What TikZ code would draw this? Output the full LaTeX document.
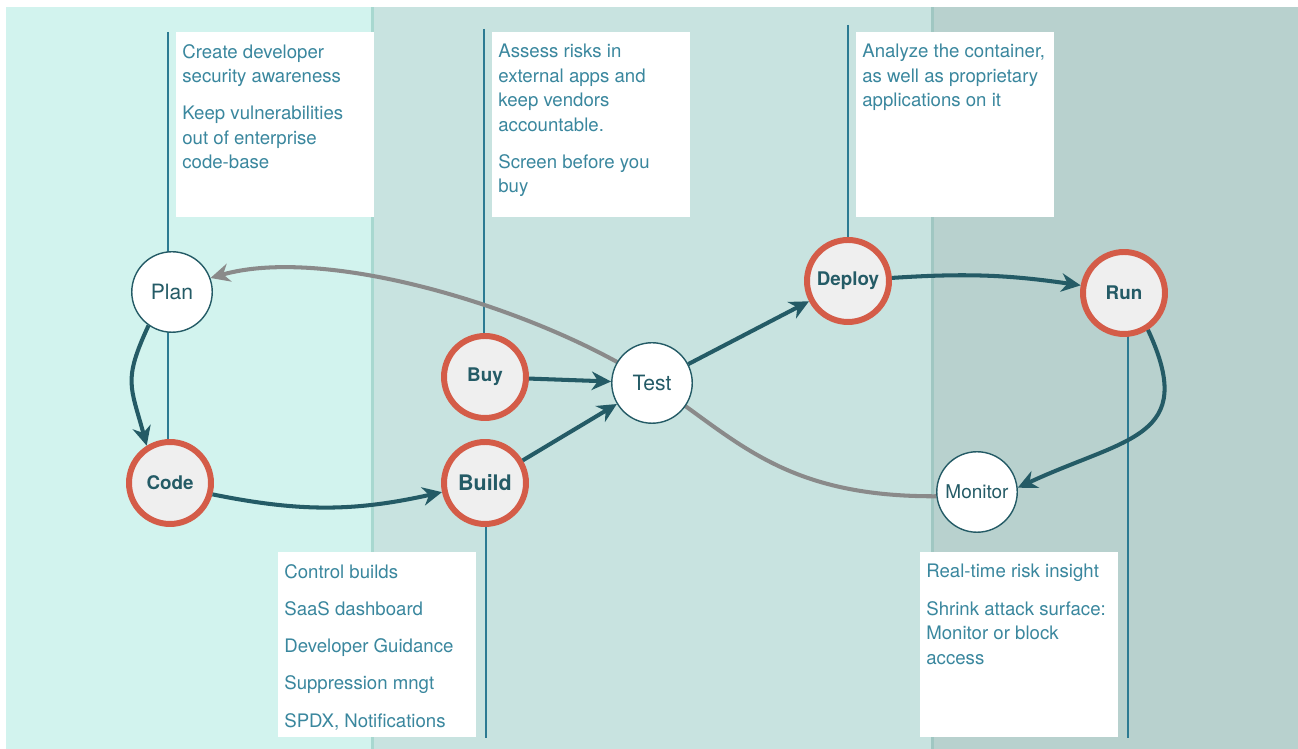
\documentclass[tikz,border=0pt]{standalone}
\usepackage{fontspec}
\setmainfont{TeX Gyre Heros}
\usepackage{xcolor}
\usepackage{tikz}
\usetikzlibrary{positioning,arrows.meta,backgrounds}

\definecolor{bandA}{RGB}{210,243,238}
\definecolor{bandB}{RGB}{200,227,224}
\definecolor{bandC}{RGB}{184,209,206}
\definecolor{edgeA}{RGB}{168,216,208}
\definecolor{edgeB}{RGB}{160,199,194}
\definecolor{loopdark}{RGB}{36,91,102}
\definecolor{loopgray}{RGB}{138,138,138}
\definecolor{scanred}{RGB}{212,92,72}
\definecolor{scanfill}{RGB}{239,239,239}
\definecolor{notecolor}{RGB}{58,135,158}
\definecolor{tetherblue}{RGB}{44,122,146}

% fixed-size text block of a note card
\newcommand{\infotext}[1]{\parbox[t][3.22cm][t]{3.72cm}{\raggedright\setlength{\parskip}{7.3pt}#1}}

\begin{document}
\begin{tikzpicture}[x=0.02cm,y=0.02cm,
    plainstage/.style={circle,minimum size=1.61cm,inner sep=0pt,draw=loopdark,line width=0.8pt,
      fill=white,text=loopdark,font=\fontsize{12}{14}\selectfont},
    scanstage/.style={circle,minimum size=1.64cm,inner sep=0pt,draw=scanred,line width=3.4pt,
      fill=scanfill,text=loopdark,font=\bfseries\fontsize{10.7}{13}\selectfont},
    note/.style={rectangle,fill=white,anchor=north west,inner xsep=0.12cm,inner ysep=0.24cm,
      text=notecolor,font=\fontsize{10.6}{13.9}\selectfont},
    flow/.style={draw=loopdark,line width=2.3pt,-{Stealth[length=11pt,width=10.5pt,inset=3.5pt]}},
    back/.style={draw=loopgray,line width=2.3pt,-{Stealth[length=11pt,width=10.5pt,inset=3.5pt]}},
    tether/.style={draw=tetherblue,line width=1pt}]
    \useasboundingbox (0,0) rectangle (1298,749);

    % stages
    \node[plainstage] (plan) at (172,457) {Plan};
    \node[scanstage] (code) at (170,266) {Code};
    \node[scanstage] (buy) at (485,372) {Buy};
    \node[scanstage,font=\bfseries\fontsize{12.2}{14}\selectfont] (build) at (485,266) {Build};
    \node[plainstage] (test) at (652,366) {Test};
    \node[scanstage] (deploy) at (848,468) {Deploy};
    \node[scanstage] (run) at (1124,456) {Run};
    \node[plainstage,font=\fontsize{10.8}{13}\selectfont] (monitor) at (977,257) {Monitor};

    % note cards
    \node[note] (planinfo) at (176,717) {\infotext{Create developer\\security awareness\par
      Keep vulnerabilities\\out of enterprise\\code-base}};
    \node[note] (buyinfo) at (492,717) {\infotext{Assess risks in\\external apps and\\keep vendors\\accountable.\par
      Screen before you\\buy}};
    \node[note] (deployinfo) at (856,717) {\infotext{Analyze the container,\\as well as proprietary\\applications on it}};
    \node[note] (buildinfo) at (278,197) {\infotext{Control builds\par SaaS dashboard\par
      Developer Guidance\par Suppression mngt\par SPDX, Notifications}};
    \node[note] (monitorinfo) at (920,197) {\infotext{Real-time risk insight\par
      Shrink attack surface:\\Monitor or block\\access}};

    % main loop
    \draw[flow] (plan.235) to[out=245,in=105,looseness=1.3] (code.122);
    \draw[flow] (code.-15) to[bend right=12] (build.192);
    \draw[flow] (buy) -- (test);
    \draw[flow] (build) -- (test);
    \draw[flow] (test) -- (deploy);
    \draw[flow] (deploy.4) to[bend left=6] (run.170);
    \draw[flow] (run.-57) to[out=-65,in=25,looseness=1.5] (monitor.6);

    \begin{scope}[on background layer]
      \fill[white] (0,0) rectangle (1298,749);
      \fill[bandA] (6,0) rectangle (372,742);
      \fill[bandB] (372,0) rectangle (932,742);
      \fill[bandC] (932,0) rectangle (1298,742);
      \draw[edgeA,line width=0.06cm] (372,0) -- (372,742);
      \draw[edgeB,line width=0.06cm] (932,0) -- (932,742);
      % card tethers
      \draw[tether] ([xshift=-0.16cm]planinfo.north west) -- ([xshift=-0.16cm]planinfo.north west |- code.center);
      \draw[tether] ([xshift=-0.16cm,yshift=0.06cm]buyinfo.north west) -- ([xshift=-0.16cm]buyinfo.north west |- buy.center);
      \draw[tether] ([xshift=-0.16cm,yshift=0.14cm]deployinfo.north west) -- ([xshift=-0.16cm]deployinfo.north west |- deploy.center);
      \draw[tether] ([xshift=0.18cm]buildinfo.south east) -- ([xshift=0.18cm]buildinfo.south east |- build.center);
      \draw[tether] ([xshift=0.18cm]monitorinfo.south east) -- ([xshift=0.18cm]monitorinfo.south east |- run.center);
      % feedback back to planning
      \draw[back] (monitor.186) .. controls (780,252) and (735,312) .. (test.center)
        .. controls (545,437) and (330,505) .. (plan.20);
    \end{scope}
  \end{tikzpicture}
\end{document}
